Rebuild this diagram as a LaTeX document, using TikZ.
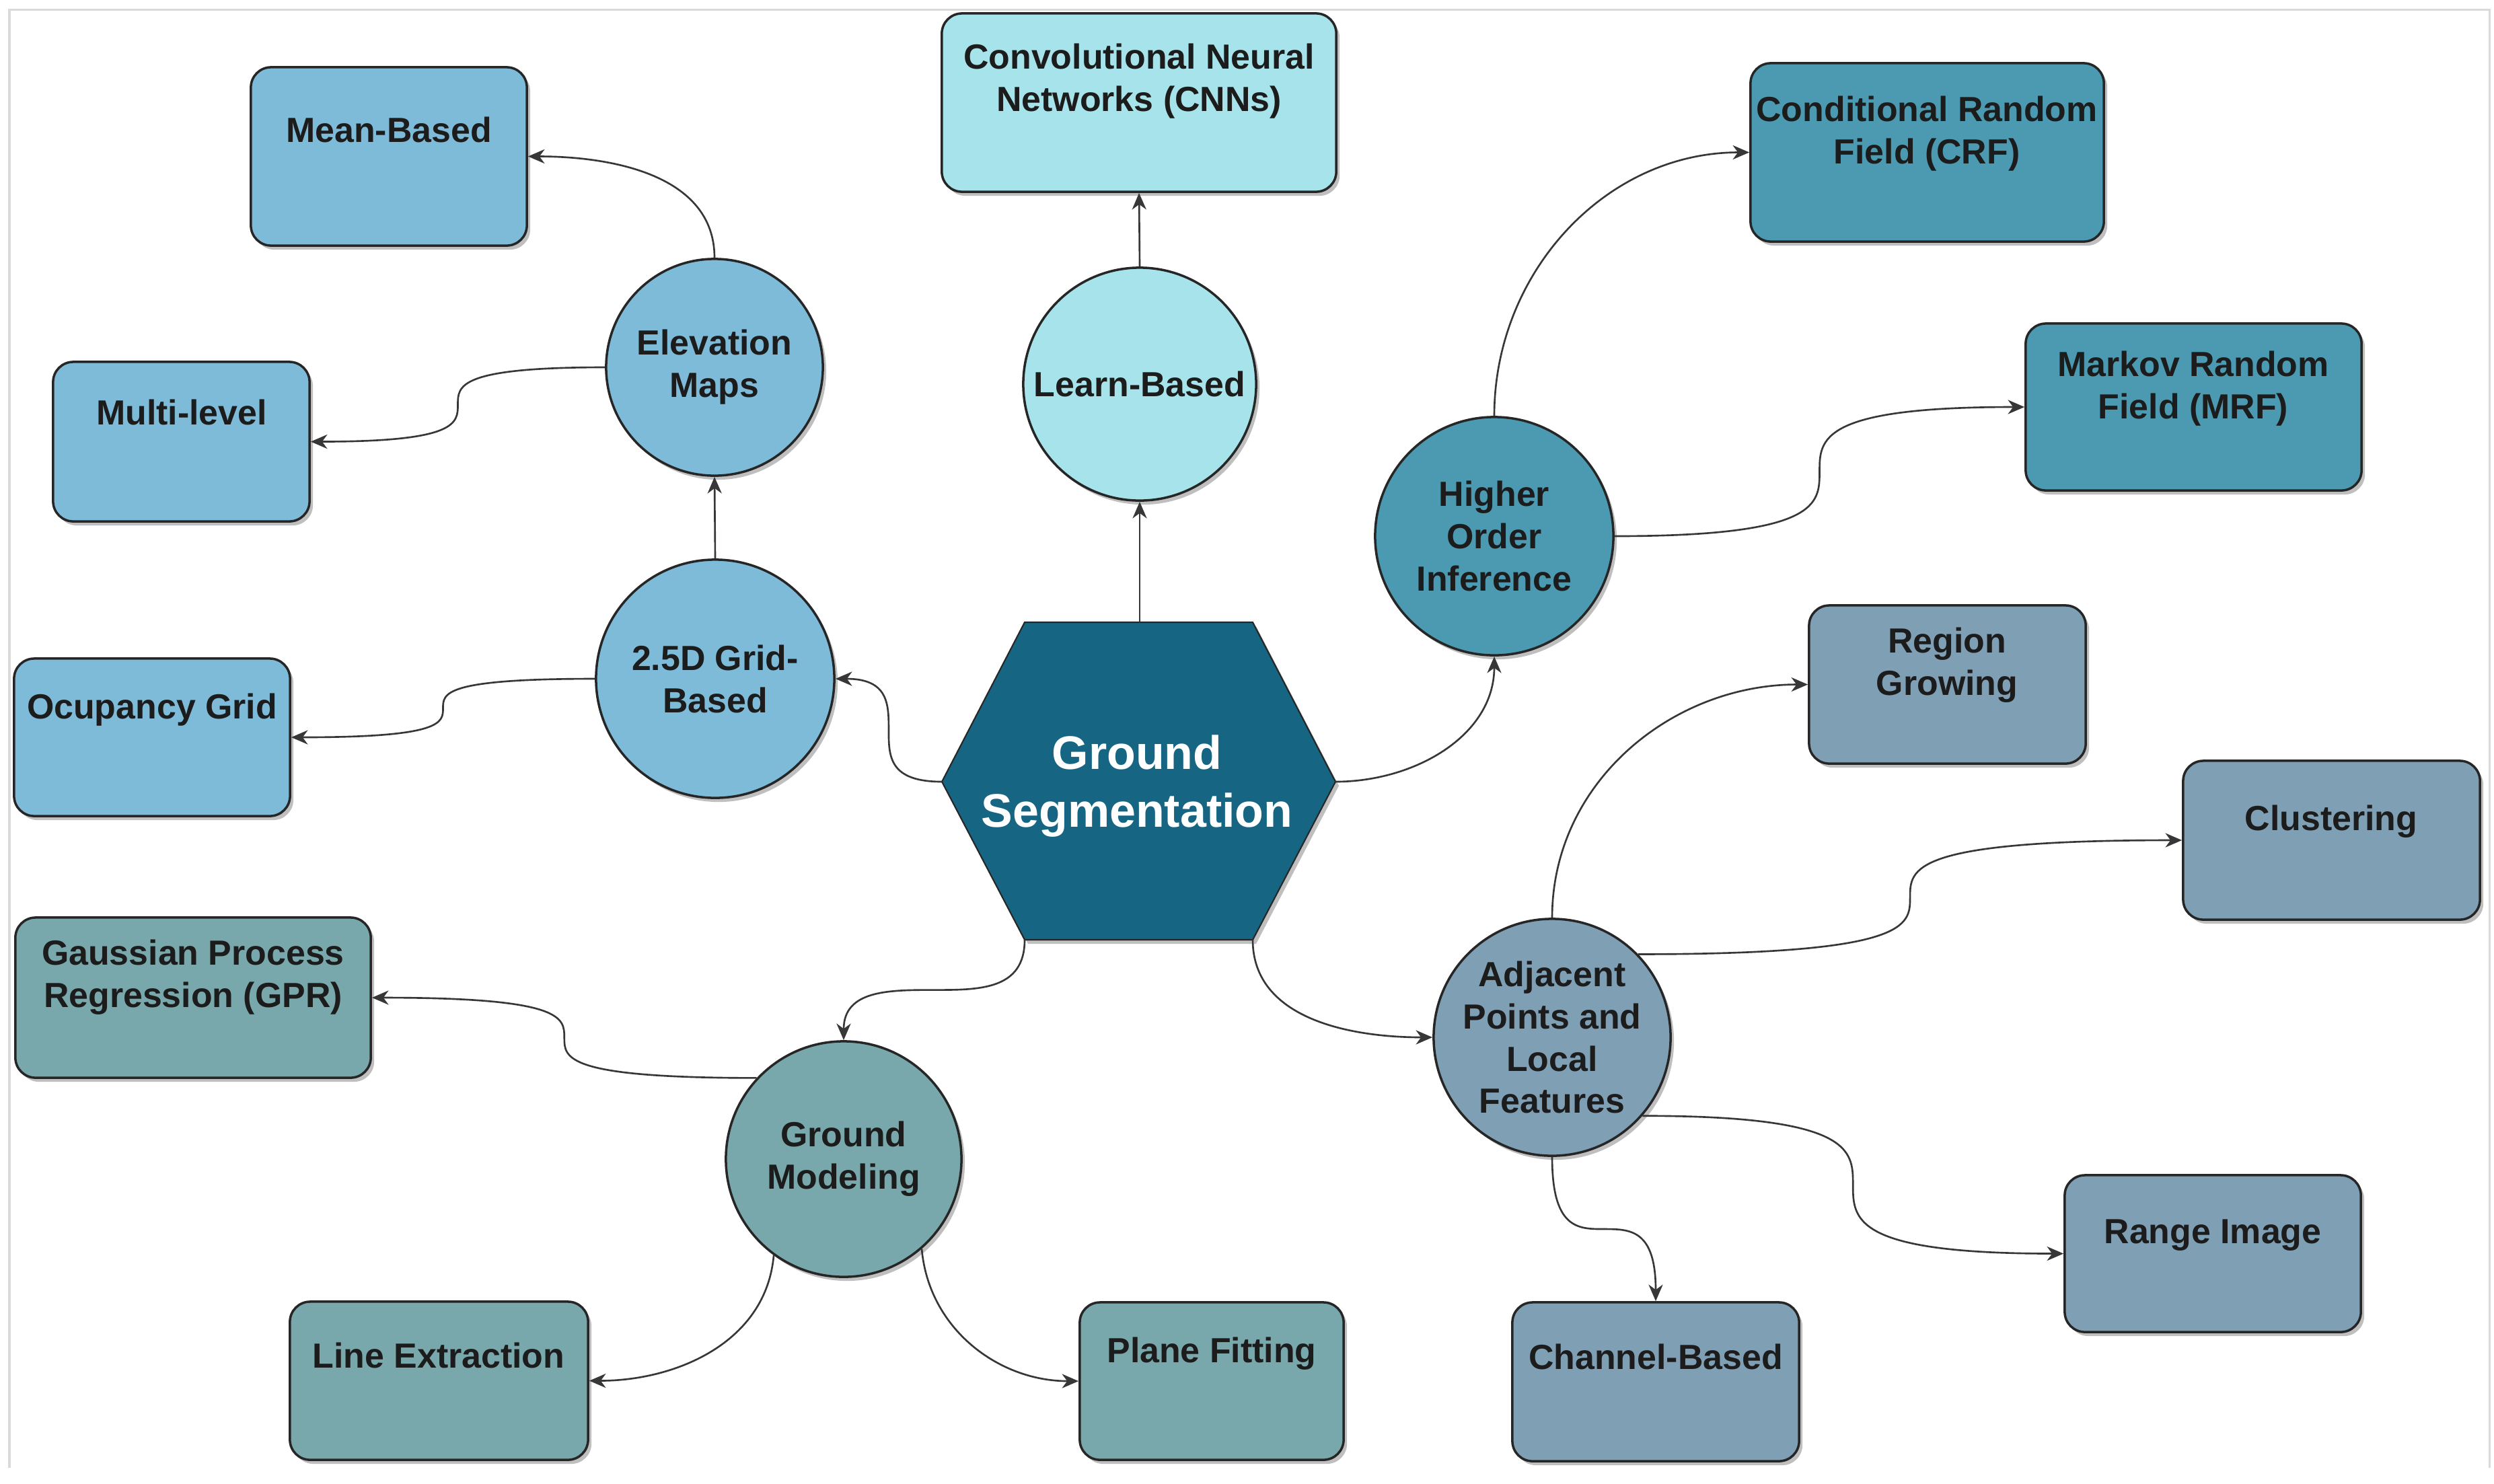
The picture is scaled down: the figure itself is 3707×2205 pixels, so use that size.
\documentclass[tikz,border=0pt]{standalone}
\usepackage{fontspec}
\setmainfont{Liberation Sans}
\usetikzlibrary{arrows.meta,shadows,calc}
\definecolor{cBlue}{RGB}{126,187,217}
\definecolor{cCyan}{RGB}{167,227,234}
\definecolor{cTeal}{RGB}{75,154,177}
\definecolor{cSlate}{RGB}{127,159,181}
\definecolor{cSage}{RGB}{120,168,171}
\definecolor{cHex}{RGB}{22,102,131}
\definecolor{cBord}{RGB}{38,38,38}
\definecolor{cLine}{RGB}{55,55,55}
\definecolor{cTxt}{RGB}{28,28,28}
\definecolor{cFrame}{RGB}{218,218,218}
\newcommand{\lblfont}{\fontsize{14.75pt}{17.9pt}\selectfont\bfseries}
\newcommand{\hexfont}{\fontsize{19.9pt}{24.4pt}\selectfont\bfseries}
\newcommand{\myhc}[2]{\draw[conn] let \p1=(#1), \p2=(#2) in (\p1) .. controls ({(\x1+\x2)/2},\y1) and ({(\x1+\x2)/2},{0.75*\y1+0.25*\y2}) .. ({(\x1+\x2)/2},{(\y1+\y2)/2}) .. controls ({(\x1+\x2)/2},{0.25*\y1+0.75*\y2}) and ({(\x1+\x2)/2},\y2) .. (\p2);}
\newcommand{\myvc}[2]{\draw[conn] let \p1=(#1), \p2=(#2) in (\p1) .. controls (\x1,{(\y1+\y2)/2}) and ({0.75*\x1+0.25*\x2},{(\y1+\y2)/2}) .. ({(\x1+\x2)/2},{(\y1+\y2)/2}) .. controls ({0.25*\x1+0.75*\x2},{(\y1+\y2)/2}) and (\x2,{(\y1+\y2)/2}) .. (\p2);}
\tikzset{
  shad/.style={drop shadow={shadow xshift=0.05cm,shadow yshift=-0.06cm,fill=black,opacity=0.25}},
  box/.style={draw=cBord,line width=1pt,rounded corners=0.3cm,inner sep=0pt,shad},
  circ/.style={circle,draw=cBord,line width=1pt,inner sep=0pt,align=center,font=\lblfont,text=cTxt,shad},
  txt/.style={align=center,font=\lblfont,text=cTxt,inner sep=0pt,anchor=base},
  conn/.style={draw=cLine,line width=0.75pt,-{Stealth[length=7pt,width=6pt,inset=2.2pt]}},
  framec/.style={draw=cFrame,line width=0.03cm}
}
\begin{document}
\begin{tikzpicture}[x=0.01cm,y=0.01cm]
\useasboundingbox (0,0) rectangle (3707,-2205);
\fill[white] (0,0) rectangle (3707,-2205);
\draw[framec] (14,-2182) -- (14,-14) -- (3700,-14) -- (3700,-2182);

% hexagon
\coordinate (gsL) at (1400,-1162);
\coordinate (gsTL) at (1523,-925);
\coordinate (gsTR) at (1862,-925);
\coordinate (gsR) at (1985,-1162);
\coordinate (gsBR) at (1862,-1397);
\coordinate (gsBL) at (1523,-1397);
\coordinate (gsT) at (1694,-925);
\draw[draw=cBord,line width=0.6pt,fill=cHex,shad] (gsL) -- (gsTL) -- (gsTR) -- (gsR) -- (gsBR) -- (gsBL) -- cycle;
\node[align=center,font=\hexfont,text=white,inner sep=0pt,anchor=base] (gst) at (1690,-1229) {Ground\\Segmentation};

% circles
\node[circ,fill=cBlue,minimum size=3.22cm] (elev) at (1062,-546) {Elevation\\Maps};
\node[circ,fill=cBlue,minimum size=3.54cm] (g25) at (1063,-1009) {2.5D Grid-\\Based};
\node[circ,fill=cCyan,minimum size=3.46cm] (learn) at (1694,-571) {Learn-Based};
\node[circ,fill=cTeal,minimum size=3.54cm] (hoi) at (2221,-797) {Higher\\Order\\Inference};
\node[circ,fill=cSlate,minimum size=3.52cm] (adj) at (2307,-1542) {Adjacent\\Points and\\Local\\Features};
\node[circ,fill=cSage,minimum size=3.5cm] (gm) at (1254,-1723) {Ground\\Modeling};

% boxes
\node[box,fill=cBlue,minimum width=4.10cm,minimum height=2.65cm] (mean) at (578,-232.5) {};
\node[box,fill=cBlue,minimum width=3.81cm,minimum height=2.37cm] (multi) at (269.5,-656.5) {};
\node[box,fill=cBlue,minimum width=4.10cm,minimum height=2.34cm] (occ) at (226,-1096) {};
\node[box,fill=cCyan,minimum width=5.86cm,minimum height=2.65cm] (cnn) at (1693,-152.5) {};
\node[box,fill=cTeal,minimum width=5.25cm,minimum height=2.65cm] (crf) at (2864.5,-226.5) {};
\node[box,fill=cTeal,minimum width=4.99cm,minimum height=2.48cm] (mrf) at (3260.5,-605) {};
\node[box,fill=cSlate,minimum width=4.11cm,minimum height=2.35cm] (rg) at (2894.5,-1017.5) {};
\node[box,fill=cSlate,minimum width=4.41cm,minimum height=2.36cm] (clus) at (3465.5,-1249) {};
\node[box,fill=cSlate,minimum width=4.40cm,minimum height=2.33cm] (range) at (3289,-1863.5) {};
\node[box,fill=cSlate,minimum width=4.26cm,minimum height=2.36cm] (chan) at (2461,-2054) {};
\node[box,fill=cSage,minimum width=5.28cm,minimum height=2.38cm] (gpr) at (287,-1483) {};
\node[box,fill=cSage,minimum width=4.43cm,minimum height=2.35cm] (line) at (652.5,-2052.5) {};
\node[box,fill=cSage,minimum width=3.92cm,minimum height=2.34cm] (plane) at (1801,-2053) {};

% box texts (base = baseline of the last line)
\node[txt] (meant) at (578,-211) {Mean-Based};
\node[txt] (multit) at (270,-631) {Multi-level};
\node[txt] (occt) at (226,-1068) {Ocupancy Grid};
\node[txt] (cnnt) at (1693,-165) {Convolutional Neural\\Networks (CNNs)};
\node[txt] (crft) at (2864,-243) {Conditional Random\\Field (CRF)};
\node[txt] (mrft) at (3260,-622) {Markov Random\\Field (MRF)};
\node[txt] (rgt) at (2894,-1033) {Region\\Growing};
\node[txt] (clust) at (3465,-1234) {Clustering};
\node[txt] (ranget) at (3289,-1848) {Range Image};
\node[txt] (chant) at (2461,-2035) {Channel-Based};
\node[txt] (gprt) at (287,-1497) {Gaussian Process\\Regression (GPR)};
\node[txt] (linet) at (652,-2033) {Line Extraction};
\node[txt] (planet) at (1801,-2025) {Plane Fitting};

% connectors
\draw[conn] (gsT) -- (learn.south);
\draw[conn] (learn.north) -- (cnn.south);
\draw[conn] (gsR) to[out=0,in=-90] (hoi.south);
\draw[conn] (hoi.north) to[out=90,in=180] (crf.west);
\myhc{hoi.east}{mrf.west}
\draw[conn] (gsBR) to[out=-90,in=180] (adj.west);
\draw[conn] (adj.north) to[out=90,in=180] (rg.west);
\myhc{adj.44}{clus.west}
\myhc{adj.-41}{range.west}
\myvc{adj.south}{chan.north}
\myhc{gsL}{g25.east}
\draw[conn] (g25.north) -- (elev.south);
\draw[conn] (elev.north) to[out=90,in=0] (mean.east);
\myhc{elev.west}{multi.east}
\myhc{g25.west}{occ.east}
\myvc{gsBL}{gm.north}
\myhc{gm.137}{gpr.east}
\draw[conn] (gm.-126) to[out=-95,in=0] (line.east);
\draw[conn] (gm.-49) to[out=-85,in=180] (plane.west);
\end{tikzpicture}
\end{document}
